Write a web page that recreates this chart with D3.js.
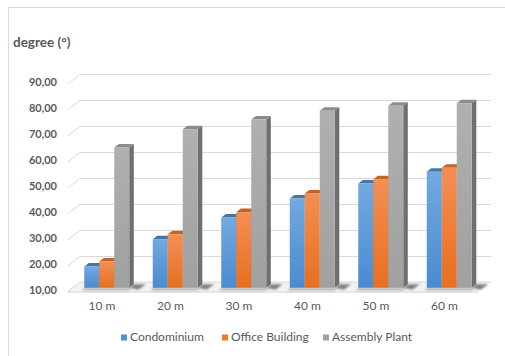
<!DOCTYPE html>
<html>
<head>
<meta charset="utf-8">
<script src="https://cdn.jsdelivr.net/npm/d3@7"></script>
<style>
  html, body { margin: 0; padding: 0; background: #fff; }
  svg { display: block; }
  text { font-family: Lato, "Open Sans", sans-serif; fill: #595959; }
</style>
</head>
<body>
<script>
// Column data (angle in degrees per distance)
const categories = ["10 m", "20 m", "30 m", "40 m", "50 m", "60 m"];
const seriesNames = ["Condominium", "Office Building", "Assembly Plant"];
const condominium = [18.2, 28.7, 37.0, 44.3, 50.1, 54.6];
const officeBuilding = [20.1, 30.6, 39.1, 46.3, 51.7, 56.2];
const assemblyPlant = [64.0, 71.0, 74.7, 78.1, 80.0, 81.0];
const yTicks = [10, 20, 30, 40, 50, 60, 70, 80, 90];
const yTickLabels = ["10,00", "20,00", "30,00", "40,00", "50,00", "60,00", "70,00", "80,00", "90,00"];

const seriesValues = [condominium, officeBuilding, assemblyPlant];

const W = 505, H = 356;
const svg = d3.select("body").append("svg").attr("width", W).attr("height", H);

// colours: front gradient top/bottom, top face, side face
const palette = [
  { top: "#72a9df", bottom: "#4a8bd0", cap: "#4576a8", side: "#3d6a99", key: "#4f8fd3" },
  { top: "#f28f55", bottom: "#e86f1e", cap: "#c4622a", side: "#b0561f", key: "#ef7a2c" },
  { top: "#b0b0b0", bottom: "#a0a0a0", cap: "#8c8c8c", side: "#6f6f6f", key: "#a0a0a0" }
];

const defs = svg.append("defs");
palette.forEach((p, i) => {
  const g = defs.append("linearGradient").attr("id", "grad" + i)
    .attr("x1", 0).attr("y1", 0).attr("x2", 0).attr("y2", 1);
  g.append("stop").attr("offset", "0%").attr("stop-color", p.top);
  g.append("stop").attr("offset", "100%").attr("stop-color", p.bottom);
});
defs.append("filter").attr("id", "soft").attr("x", "-50%").attr("y", "-50%")
  .attr("width", "200%").attr("height", "200%")
  .append("feGaussianBlur").attr("stdDeviation", 1.2);

// chart frame
svg.append("path").attr("d", `M8.5,${H} V7.5 H${W}`)
  .attr("fill", "none").attr("stroke", "#d9d9d9").attr("stroke-width", 1);

// back wall geometry and depth projection
const wallLeft = 80, wallRight = 491;
const depthX = -12.3, depthY = 9.5;  // offset from back wall to front edge
const y = d3.scaleLinear().domain([10, 90]).range([282, 74]);
const x0 = d3.scaleBand().domain(categories).range([wallLeft, wallRight])
  .paddingInner(0.343).paddingOuter(0.1715);
const x1 = d3.scaleBand().domain(seriesNames).range([0, x0.bandwidth()]);
const px = (xb, f) => xb + f * depthX;
const py = (yb, f) => yb + f * depthY;

// gridlines on the back wall with the diagonal leaders on the side wall
const grid = svg.append("g").attr("stroke", "#d9d9d9").attr("fill", "none").attr("stroke-width", 1);
yTicks.filter(v => v > 10).forEach(v => {
  const yy = Math.round(y(v)) + 0.5;
  grid.append("path").attr("d", `M${px(wallLeft, 1)},${yy + depthY} L${wallLeft},${yy} H${wallRight}`);
});

// floor
const fy = y(10);
svg.append("path")
  .attr("d", `M${wallLeft},${fy} H${wallRight} L${px(wallRight, 1)},${py(fy, 1)} H${px(wallLeft, 1)} Z`)
  .attr("fill", "#f3f3f3").attr("stroke", "none");
svg.append("path")
  .attr("d", `M${px(wallLeft, 1)},${py(fy, 1) + 0.5} H${px(wallRight, 1)}`)
  .attr("stroke", "#d0d0d0").attr("fill", "none");
svg.append("path")
  .attr("d", `M${px(wallLeft, 1)},${py(fy, 1)} L${wallLeft},${fy} H${wallRight}`)
  .attr("stroke", "#d9d9d9").attr("fill", "none");

// y tick labels at the front edge
svg.append("g").selectAll("text").data(yTicks).join("text")
  .attr("x", 57).attr("y", d => py(y(d), 1) - 0.5)
  .attr("text-anchor", "end").attr("dominant-baseline", "middle")
  .attr("font-size", 11).attr("font-weight", "bold")
  .text((d, i) => yTickLabels[i]);

// category labels
svg.append("g").selectAll("text").data(categories).join("text")
  .attr("x", d => px(x0(d) + x0.bandwidth() / 2, 1))
  .attr("y", 307).attr("text-anchor", "middle").attr("dominant-baseline", "middle")
  .attr("font-size", 12).text(d => d);

// 3D columns: front plane and back plane as fractions of the depth
const fFront = 0.61, fBack = 0.24;
const bars = [];
categories.forEach((c, ci) => {
  seriesNames.forEach((s, si) => {
    bars.push({ c, s, si, v: seriesValues[si][ci] });
  });
});

const shadow = svg.append("g").attr("filter", "url(#soft)");
categories.forEach(c => {
  const xr = x0(c) + x0.bandwidth();
  const xl = x0(c);
  const b0 = y(10);
  shadow.append("path")
    .attr("d", `M${px(xr, fFront)},${py(b0, fFront)} L${px(xr, fBack)},${py(b0, fBack)} L${px(xr, fBack) + 12},${py(b0, fBack)} L${px(xr, fFront) + 9},${py(b0, fFront) + 2} Z`)
    .attr("fill", "#5a5a5a").attr("opacity", 0.75);
  shadow.append("path")
    .attr("d", `M${px(xl, fFront)},${py(b0, fFront) + 0.5} L${px(xr, fFront) + 2},${py(b0, fFront) + 0.5} L${px(xr, fFront)},${py(b0, fFront) + 2.5} L${px(xl, fFront) - 2},${py(b0, fFront) + 2.5} Z`)
    .attr("fill", "#6a6a6a").attr("opacity", 0.6);
});

const barG = svg.append("g");
bars.forEach(b => {
  const xl = x0(b.c) + x1(b.s), xr = xl + x1.bandwidth();
  const yt = y(b.v), yb = y(10);
  const p = palette[b.si];
  const g = barG.append("g");
  // right side face
  g.append("path")
    .attr("d", `M${px(xr, fFront)},${py(yt, fFront)} L${px(xr, fBack)},${py(yt, fBack)} L${px(xr, fBack)},${py(yb, fBack)} L${px(xr, fFront)},${py(yb, fFront)} Z`)
    .attr("fill", p.side);
  // top face
  g.append("path")
    .attr("d", `M${px(xl, fFront)},${py(yt, fFront)} L${px(xl, fBack)},${py(yt, fBack)} L${px(xr, fBack)},${py(yt, fBack)} L${px(xr, fFront)},${py(yt, fFront)} Z`)
    .attr("fill", p.cap);
  // front face
  g.append("rect")
    .attr("x", px(xl, fFront)).attr("y", py(yt, fFront))
    .attr("width", xr - xl).attr("height", yb - yt)
    .attr("fill", `url(#grad${b.si})`);
});

// legend
const legendItems = [
  { name: seriesNames[0], x: 121 },
  { name: seriesNames[1], x: 222 },
  { name: seriesNames[2], x: 323 }
];
const lg = svg.append("g");
legendItems.forEach((it, i) => {
  lg.append("rect").attr("x", it.x).attr("y", 334.5).attr("width", 6).attr("height", 6)
    .attr("fill", palette[i].key);
  lg.append("text").attr("x", it.x + 9).attr("y", 338).attr("dominant-baseline", "middle")
    .attr("font-size", 12).text(it.name);
});

// axis title
svg.append("text").attr("x", 13).attr("y", 44).attr("dominant-baseline", "middle")
  .attr("font-size", 13.5).attr("font-weight", "bold").text("degree (°)");
</script>
</body>
</html>
